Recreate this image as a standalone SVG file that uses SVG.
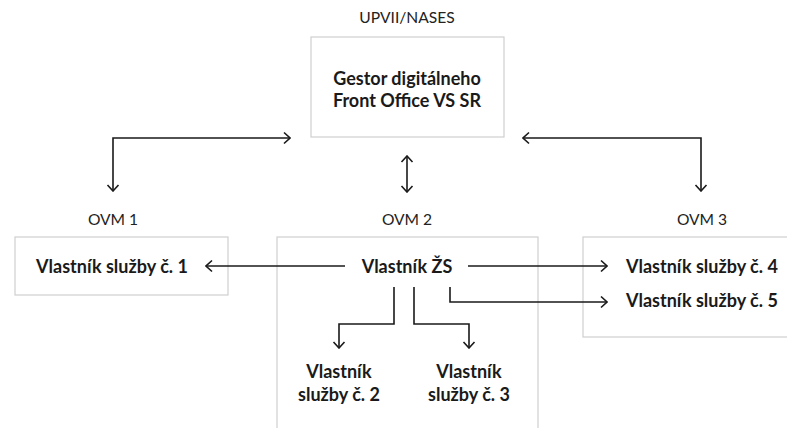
<svg xmlns="http://www.w3.org/2000/svg" width="787" height="428" viewBox="0 0 787 428">
<defs>
<marker id="ah" viewBox="-7 -7 8 14" markerWidth="8" markerHeight="14" refX="0" refY="0" markerUnits="userSpaceOnUse" orient="auto-start-reverse">
<path d="M-6,-5.5 L0,0 L-6,5.5" fill="none" stroke="#1a1a1a" stroke-width="1.6"/>
</marker>
</defs>
<style>
.box{fill:#fff;stroke:#cfcfcf;stroke-width:1.2}
.lbl{font-family:Lato,"Noto Sans","Liberation Sans",sans-serif;font-size:15.6px;fill:#222;text-anchor:middle}
.b{font-family:Lato,"Noto Sans","Liberation Sans",sans-serif;font-size:18px;font-weight:bold;fill:#1a1a1a;text-anchor:middle}
.c{fill:none;stroke:#1a1a1a;stroke-width:1.6}
</style>
<rect width="787" height="428" fill="#fff"/>
<g id="gestor">
<text class="lbl" x="407" y="23">UPVII/NASES</text>
<rect class="box" x="311" y="37" width="193" height="100"/>
<text class="b" x="407" y="85">Gestor digitálneho</text>
<text class="b" x="407" y="107">Front Office VS SR</text>
</g>
<g id="ovm1">
<text class="lbl" x="113" y="225">OVM 1</text>
<rect class="box" x="15" y="237" width="213" height="58"/>
<text class="b" x="112" y="273">Vlastník služby č. 1</text>
</g>
<g id="ovm2">
<text class="lbl" x="407" y="225">OVM 2</text>
<rect class="box" x="277" y="237" width="261" height="200"/>
<text class="b" x="407" y="273">Vlastník ŽS</text>
<text class="b" x="339" y="378">Vlastník</text>
<text class="b" x="339" y="401">služby č. 2</text>
<text class="b" x="469" y="378">Vlastník</text>
<text class="b" x="469" y="401">služby č. 3</text>
</g>
<g id="ovm3">
<text class="lbl" x="702" y="225">OVM 3</text>
<rect class="box" x="583" y="237" width="215" height="100"/>
<text class="b" x="626" y="273" style="text-anchor:start">Vlastník služby č. 4</text>
<text class="b" x="626" y="307" style="text-anchor:start">Vlastník služby č. 5</text>
</g>
<g id="connectors">
<path class="c" d="M113,191 V138 H290" marker-start="url(#ah)" marker-end="url(#ah)"/>
<path class="c" d="M523,138 H701 V191" marker-start="url(#ah)" marker-end="url(#ah)"/>
<path class="c" d="M407,156 V192" marker-start="url(#ah)" marker-end="url(#ah)"/>
<path class="c" d="M345,266 H206" marker-end="url(#ah)"/>
<path class="c" d="M468,266 H607" marker-end="url(#ah)"/>
<path class="c" d="M450,287 V302 H607" marker-end="url(#ah)"/>
<path class="c" d="M394,287 V324 H339 V348" marker-end="url(#ah)"/>
<path class="c" d="M414,287 V324 H469 V348" marker-end="url(#ah)"/>
</g>
</svg>
